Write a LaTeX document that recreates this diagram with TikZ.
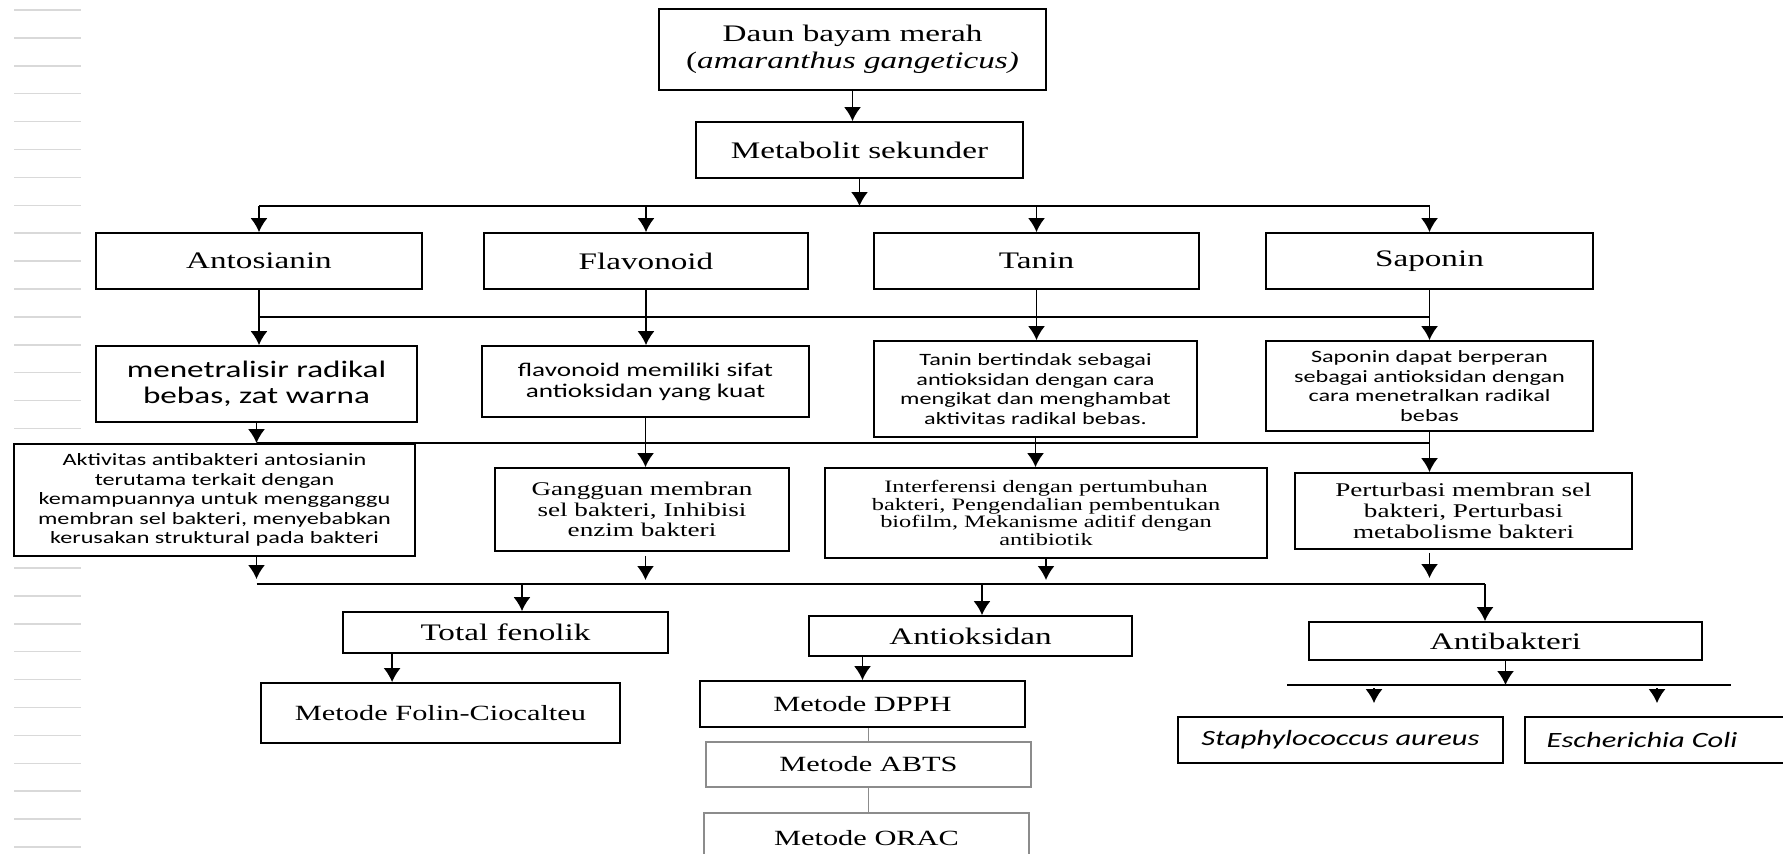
\documentclass[tikz,border=0pt]{standalone}
\usepackage{fontspec}
\setmainfont{Liberation Serif}[FakeStretch=1.4]
\newfontfamily\calibri{Carlito}[FakeStretch=1.4]
\usetikzlibrary{arrows.meta, positioning}

\tikzset{
  box/.style={draw, line width=1.8pt, fill=white, inner sep=0pt, align=center},
  greybox/.style={box, draw=black!45},
  txtbig/.style={font=\fontsize{23.7}{27}\selectfont},
  txtmid/.style={font=\fontsize{21.7}{25}\selectfont},
  txtsmall/.style={font=\fontsize{19.4}{20.8}\selectfont},
  txttiny/.style={font=\fontsize{17.4}{17.7}\selectfont},
  sansbig/.style={font=\calibri\fontsize{23.7}{26}\selectfont},
  sansmid/.style={font=\calibri\fontsize{19.4}{21}\selectfont},
  sanssmall/.style={font=\calibri\fontsize{17.3}{19.4}\selectfont},
  sansital/.style={font=\calibri\itshape\fontsize{21.8}{24}\selectfont}
}

\begin{document}
\begin{tikzpicture}[x=1pt, y=1pt, line width=1.6pt, >={Latex[length=14pt,width=17pt]}]
  \useasboundingbox (0,0) rectangle (1783,-854);
  \clip (0,0) rectangle (1783,-854);

  % ruler marks on the left
  \foreach \k in {0,...,30}
    \draw[black!15, line width=1.5pt] (14,{-10-27.9*\k}) -- (81,{-10-27.9*\k});

  % top
  \node[box, txtbig, minimum width=387, minimum height=81] (daun) at (852.5,-49.5) {Daun bayam merah\\(\textit{amaranthus gangeticus)}};
  \node[box, txtbig, minimum width=327, minimum height=56] (metab) at (859.5,-150) {Metabolit sekunder};
  \draw[->] (daun.south) -- (daun.south |- metab.north);

  % compounds
  \node[box, txtbig, minimum width=326, minimum height=56] (anto) at (259,-261) {Antosianin};
  \node[box, txtbig, minimum width=324, minimum height=56] (flav) at (646,-261) {Flavonoid};
  \node[box, txtbig, minimum width=325, minimum height=56] (tan) at (1036.5,-261) {Tanin};
  \node[box, txtbig, minimum width=327, minimum height=56] (sapo) at (1429.5,-261) {Saponin};

  \coordinate (bus1) at (0,-206);
  \draw (anto.north |- bus1) -- (sapo.north |- bus1);
  \draw[->] (metab.south) -- (metab.south |- bus1);
  \foreach \n in {anto, flav, tan, sapo}
    \draw[->] (\n.north |- bus1) -- (\n.north);

  % antioxidant role
  \node[box, sansbig, minimum width=321, minimum height=76] (menet) at (256.5,-384) {menetralisir radikal\\bebas, zat warna};
  \node[box, sansmid, minimum width=327, minimum height=71] (flavk) at (645.5,-381.5) {flavonoid memiliki sifat\\antioksidan yang kuat};
  \node[box, sanssmall, minimum width=323, minimum height=96] (tank) at (1035.5,-389) {Tanin bertindak sebagai\\antioksidan dengan cara\\mengikat dan menghambat\\aktivitas radikal bebas.};
  \node[box, sanssmall, minimum width=327, minimum height=90] (sapok) at (1429.5,-386) {Saponin dapat berperan\\sebagai antioksidan dengan\\cara menetralkan radikal\\bebas};

  \coordinate (bus2) at (0,-317);
  \draw (anto.south |- bus2) -- (sapo.south |- bus2);
  \foreach \a/\b in {anto/menet, flav/flavk, tan/tank, sapo/sapok}
    \draw[->] (\a.south) -- (\a.south |- \b.north);

  % antibacterial role
  \node[box, sanssmall, minimum width=401, minimum height=112] (akt) at (214.5,-500) {Aktivitas antibakteri antosianin\\terutama terkait dengan\\kemampuannya untuk mengganggu\\membran sel bakteri, menyebabkan\\kerusakan struktural pada bakteri};
  \node[box, txtsmall, minimum width=294, minimum height=83] (gang) at (642,-509.5) {Gangguan membran\\sel bakteri, Inhibisi\\enzim bakteri};
  \node[box, txttiny, minimum width=442, minimum height=90] (inter) at (1046,-513) {Interferensi dengan pertumbuhan\\bakteri, Pengendalian pembentukan\\biofilm, Mekanisme aditif dengan\\antibiotik};
  \node[box, txtsmall, minimum width=337, minimum height=76] (pert) at (1463.5,-511) {Perturbasi membran sel\\bakteri, Perturbasi\\metabolisme bakteri};

  \coordinate (bus3) at (0,-443);
  \draw (menet.south |- bus3) -- (sapok.south |- bus3);
  \draw[->] (menet.south) -- (menet.south |- akt.north);
  \draw[->] (flavk.south) -- (flavk.south |- gang.north);
  \draw[->] (tank.south) -- (tank.south |- inter.north);
  \draw[->] (sapok.south) -- (sapok.south |- pert.north);

  % assays
  \node[box, txtbig, minimum width=325, minimum height=41] (tot) at (505.5,-632.5) {Total fenolik};
  \node[box, txtbig, minimum width=323, minimum height=40] (antiox) at (970.5,-636) {Antioksidan};
  \node[box, txtbig, minimum width=393, minimum height=38] (antibak) at (1505.5,-641) {Antibakteri};

  \coordinate (bus4) at (0,-584);
  \coordinate (d4a) at (522,-584);
  \coordinate (d4b) at (982,-584);
  \coordinate (d4c) at (1485,-584);
  \draw (menet.south |- bus4) -- (d4c);
  \draw[->, shorten >=5pt] (menet.south |- akt.south) -- (menet.south |- bus4);
  \draw[->, shorten <=4pt, shorten >=4pt] (flavk.south |- gang.south) -- (flavk.south |- bus4);
  \draw[->, shorten >=4pt] (inter.south) -- (inter.south |- bus4);
  \draw[->, shorten <=3pt, shorten >=6pt] (sapok.south |- pert.south) -- (sapok.south |- bus4);
  \foreach \d/\n in {d4a/tot, d4b/antiox, d4c/antibak}
    \draw[->] (\d) -- (\d |- \n.north);

  % methods
  \node[box, txtmid, minimum width=359, minimum height=60] (folin) at (440.5,-713) {Metode Folin-Ciocalteu};
  \node[box, txtmid, minimum width=325, minimum height=46] (dpph) at (862.5,-704) {Metode DPPH};
  \node[greybox, txtmid, minimum width=325, minimum height=45] (abts) at (868.5,-764.5) {Metode ABTS};
  \node[greybox, txtmid, minimum width=325, minimum height=50] (orac) at (866.5,-838) {Metode ORAC};

  \draw[->] ([xshift=50pt]tot.south west) -- ([xshift=50pt]tot.south west |- folin.north);
  \draw[->] (dpph.north |- antiox.south) -- (dpph.north);
  \draw[black!45] (abts.north |- dpph.south) -- (abts.north);
  \draw[black!45] (abts.south) -- (abts.south |- orac.north);

  % bacteria
  \node[box, sansital, minimum width=325, minimum height=46] (staph) at (1340.5,-740) {Staphylococcus aureus};
  \node[box, sansital, minimum width=260, minimum height=46] (ecoli) at (1655,-740) {Escherichia Coli\hspace*{26pt}};

  \coordinate (bus5) at (0,-685);
  \coordinate (b5l) at (1287,-685);
  \coordinate (b5r) at (1731,-685);
  \coordinate (s5a) at (1374,-685);
  \coordinate (s5b) at (1657,-685);
  \draw (b5l) -- (b5r);
  \draw[->] (antibak.south) -- (antibak.south |- bus5);
  \draw[->, shorten <=3pt, shorten >=13pt] (s5a) -- (s5a |- staph.north);
  \draw[->, shorten <=3pt, shorten >=13pt] (s5b) -- (s5b |- ecoli.north);
\end{tikzpicture}
\end{document}
